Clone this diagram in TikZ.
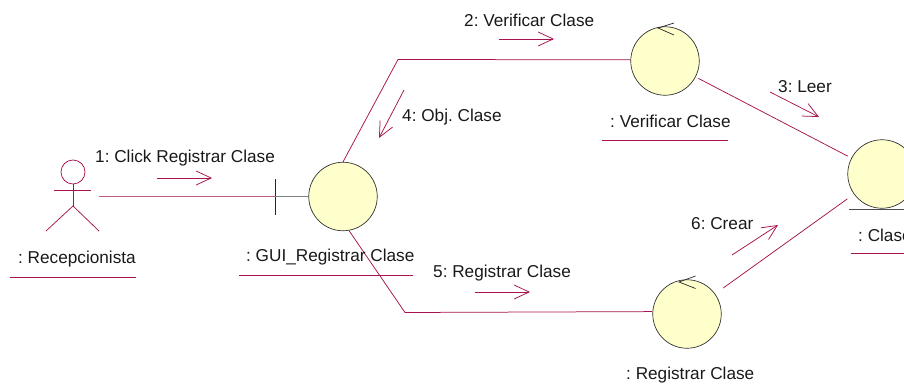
\documentclass[tikz,border=0pt]{standalone}
\usepackage{fontspec}
\setmainfont{Liberation Sans}
\usepackage{tikz}
\usetikzlibrary{arrows.meta}
\definecolor{linkred}{HTML}{A8124E}
\definecolor{objfill}{HTML}{FFFFCC}
\tikzset{
  obj/.style={circle,draw=black!80,fill=objfill,line width=0.7pt,inner sep=0pt,minimum size=68.5pt},
  lbl/.style={inner sep=0pt,text=black!90,font=\fontsize{17.2}{19}\selectfont\frenchspacing},
  link/.style={draw=linkred,line width=0.75pt},
  msg/.style={link,-{Straight Barb[length=15pt,width=14pt]}},
  stick/.style={black!85,line width=0.7pt}
}
\begin{document}
\begin{tikzpicture}[x=1pt,y=-1pt]
\useasboundingbox (0,0) rectangle (904,391);
% objects
\node[obj] (gui) at (343,196.5) {};
\node[obj] (verificar) at (665,61) {};
\node[obj] (registrar) at (687,314) {};
\node[obj] (clase) at (882,174) {};
\coordinate (guitick) at (275.5,196.5);
\coordinate (actorhand) at (99,196.5);
\coordinate (bendtop) at (398,59.5);
\coordinate (bendlow) at (405,312.5);
% actor
\node[circle,draw=linkred,line width=0.75pt,inner sep=0pt,minimum size=24pt] (head) at (73,172) {};
\coordinate (armL) at (54,190);
\coordinate (armR) at (91,190);
\coordinate (hip) at (73,206);
\coordinate (legL) at (46,231);
\coordinate (legR) at (99,231);
\draw[link] (armL) -- (armR);
\draw[link] (head.south) -- (hip);
\draw[link] (legL) -- (hip) -- (legR);
% stereotype marks
\draw[stick] (275.5,179) -- (275.5,215);
\draw[black!50,line width=1pt] (guitick) -- (gui.west);
\draw[stick] (674,23) -- (658,28) -- (674,35);
\draw[stick] (695.5,276) -- (679,282) -- (695.5,288.5);
\draw[black!70,line width=0.8pt] (849,209) -- (904,209);
% links
\draw[draw=linkred!70,line width=1pt] (actorhand) -- (guitick);
\draw[link] (gui.north) -- (bendtop) -- (verificar.178);
\draw[link] (gui.-80) -- (bendlow) -- (registrar.176);
\draw[link,shorten <=3pt,shorten >=4pt] (verificar) -- (clase);
\draw[link,shorten <=10pt,shorten >=8pt] (registrar) -- (clase);
% object names
\node[lbl,anchor=west] (nameactor) at (18,259) {: Recepcionista};
\node[lbl,anchor=west] (namegui) at (246,257) {: GUI\_Registrar Clase};
\node[lbl,anchor=west] (nameverificar) at (610,121.5) {: Verificar Clase};
\node[lbl,anchor=west] (nameregistrar) at (626,375) {: Registrar Clase};
\node[lbl,anchor=west] (nameclase) at (858,235) {: Clase};
\draw[link] (10,277) -- (136,277);
\draw[link] (239,275) -- (413,275);
\draw[link] (602,140) -- (728,140);
\draw[link] (851,253.5) -- (904,253.5);
% messages
\node[lbl,anchor=west] (msgone) at (95,158) {1: Click Registrar Clase};
\node[lbl,anchor=west] (msgtwo) at (464,20) {2: Verificar Clase};
\node[lbl,anchor=west] (msgthree) at (778,87) {3: Leer};
\node[lbl,anchor=west] (msgfour) at (402,117) {4: Obj. Clase};
\node[lbl,anchor=west] (msgfive) at (433,273) {5: Registrar Clase};
\node[lbl,anchor=west] (msgsix) at (691,224) {6: Crear};
\draw[msg] (157,178) -- (212,178);
\draw[msg] (499,39) -- (554,39);
\draw[msg] (770,92) -- (819,117);
\draw[msg] (404,90) -- (379,138);
\draw[msg] (475,292) -- (530,292);
\draw[msg] (732,255) -- (778,225);
\end{tikzpicture}
\end{document}
